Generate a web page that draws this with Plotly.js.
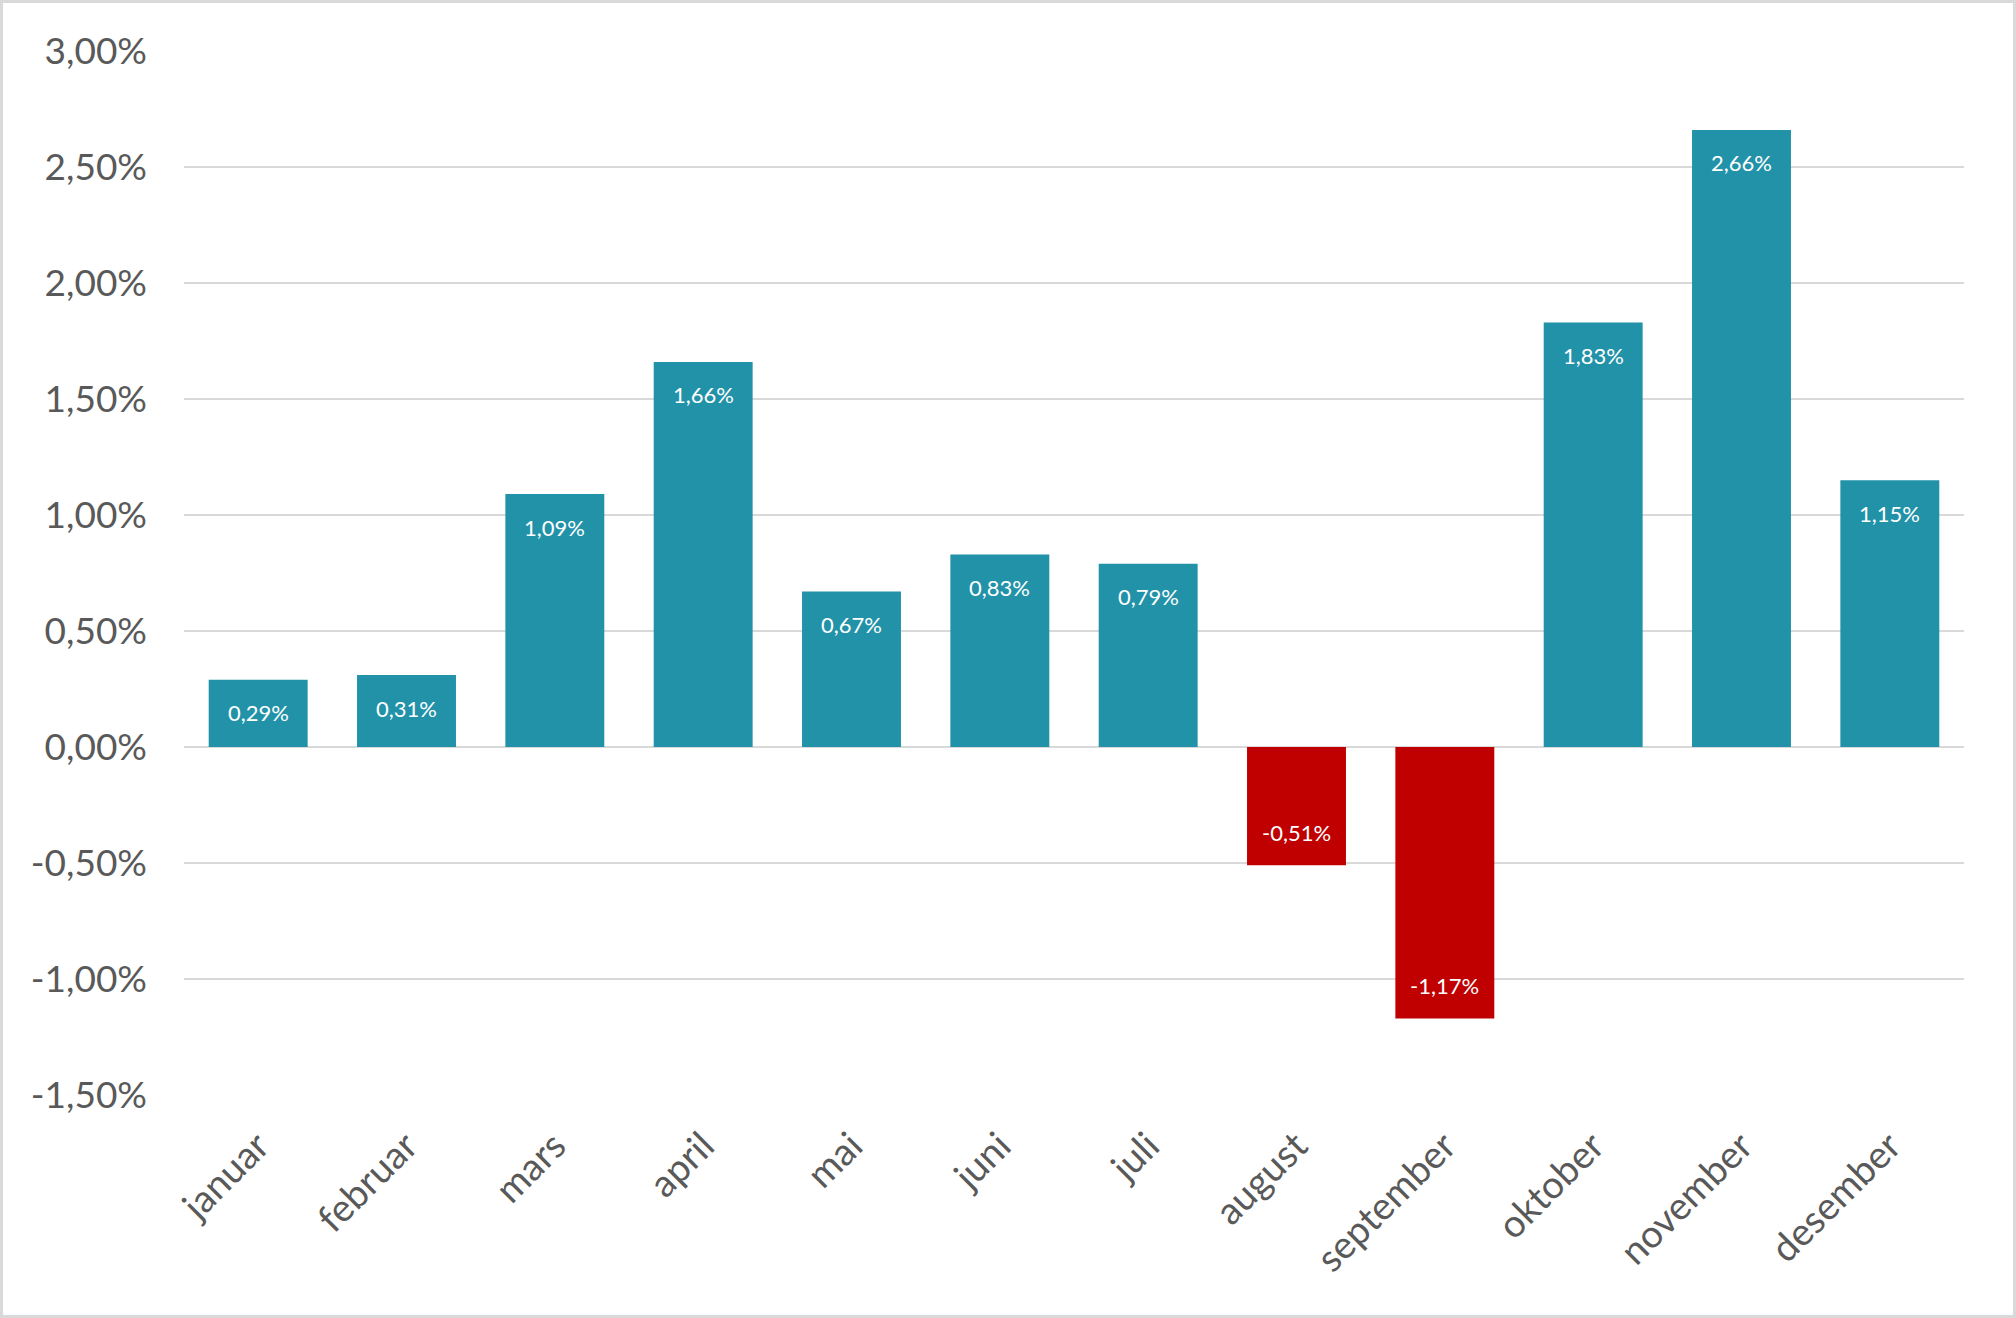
<!DOCTYPE html>
<html>
<head>
<meta charset="utf-8">
<script src="https://cdn.plot.ly/plotly-3.0.1.min.js"></script>
<style>
  html, body { margin: 0; padding: 0; background: #ffffff; }
  #frame { width: 2016px; height: 1318px; box-sizing: border-box; border: 3px solid #d9d9d9; background: #ffffff; }
  #chart { width: 2010px; height: 1312px; }
</style>
</head>
<body>
<div id="frame"><div id="chart"></div></div>
<script>
// Data (monthly change, in percent)
var months = ["januar", "februar", "mars", "april", "mai", "juni", "juli", "august", "september", "oktober", "november", "desember"];
var values = [0.29, 0.31, 1.09, 1.66, 0.67, 0.83, 0.79, -0.51, -1.17, 1.83, 2.66, 1.15];
var tickValues = [-1.5, -1.0, -0.5, 0, 0.5, 1.0, 1.5, 2.0, 2.5, 3.0];
var tickLabels = ["-1,50%", "-1,00%", "-0,50%", "0,00%", "0,50%", "1,00%", "1,50%", "2,00%", "2,50%", "3,00%"];

var posColor = "#2192a8";
var negColor = "#c00000";

function fmt(v) { return v.toFixed(2).replace(".", ",") + "%"; }

var colors = values.map(function (v) { return v < 0 ? negColor : posColor; });

var trace = {
  type: "bar",
  x: months,
  y: values,
  marker: { color: colors, line: { width: 0 } },
  hoverinfo: "skip"
};

var annotations = values.map(function (v, i) {
  return {
    x: months[i],
    y: v,
    xref: "x",
    yref: "y",
    text: fmt(v),
    showarrow: false,
    yanchor: "middle",
    xanchor: "center",
    yshift: v < 0 ? 33 : -33,
    font: { family: "Lato, 'Open Sans', sans-serif", size: 22, color: "#ffffff" }
  };
});

var layout = {
  width: 2010,
  height: 1312,
  margin: { l: 181, r: 49, t: 48, b: 220, pad: 0 },
  paper_bgcolor: "#ffffff",
  plot_bgcolor: "#ffffff",
  showlegend: false,
  bargap: 0.333,
  font: { family: "Lato, 'Open Sans', sans-serif", color: "#595959" },
  xaxis: {
    type: "category",
    tickangle: -45,
    ticks: "",
    showgrid: false,
    showline: false,
    zeroline: false,
    ticklabelstandoff: 20,
    tickfont: { family: "Lato, 'Open Sans', sans-serif", size: 38, color: "#595959" }
  },
  yaxis: {
    range: [-1.5, 3.0],
    tickvals: tickValues,
    ticktext: tickLabels,
    showgrid: true,
    gridcolor: "#d9d9d9",
    gridwidth: 2.6,
    zeroline: true,
    zerolinecolor: "#d9d9d9",
    zerolinewidth: 2.6,
    showline: false,
    ticks: "",
    ticklabelstandoff: 36,
    tickfont: { family: "Lato, 'Open Sans', sans-serif", size: 37, color: "#595959" }
  },
  annotations: annotations
};

Plotly.newPlot("chart", [trace], layout, { displayModeBar: false, staticPlot: true });
</script>
</body>
</html>
